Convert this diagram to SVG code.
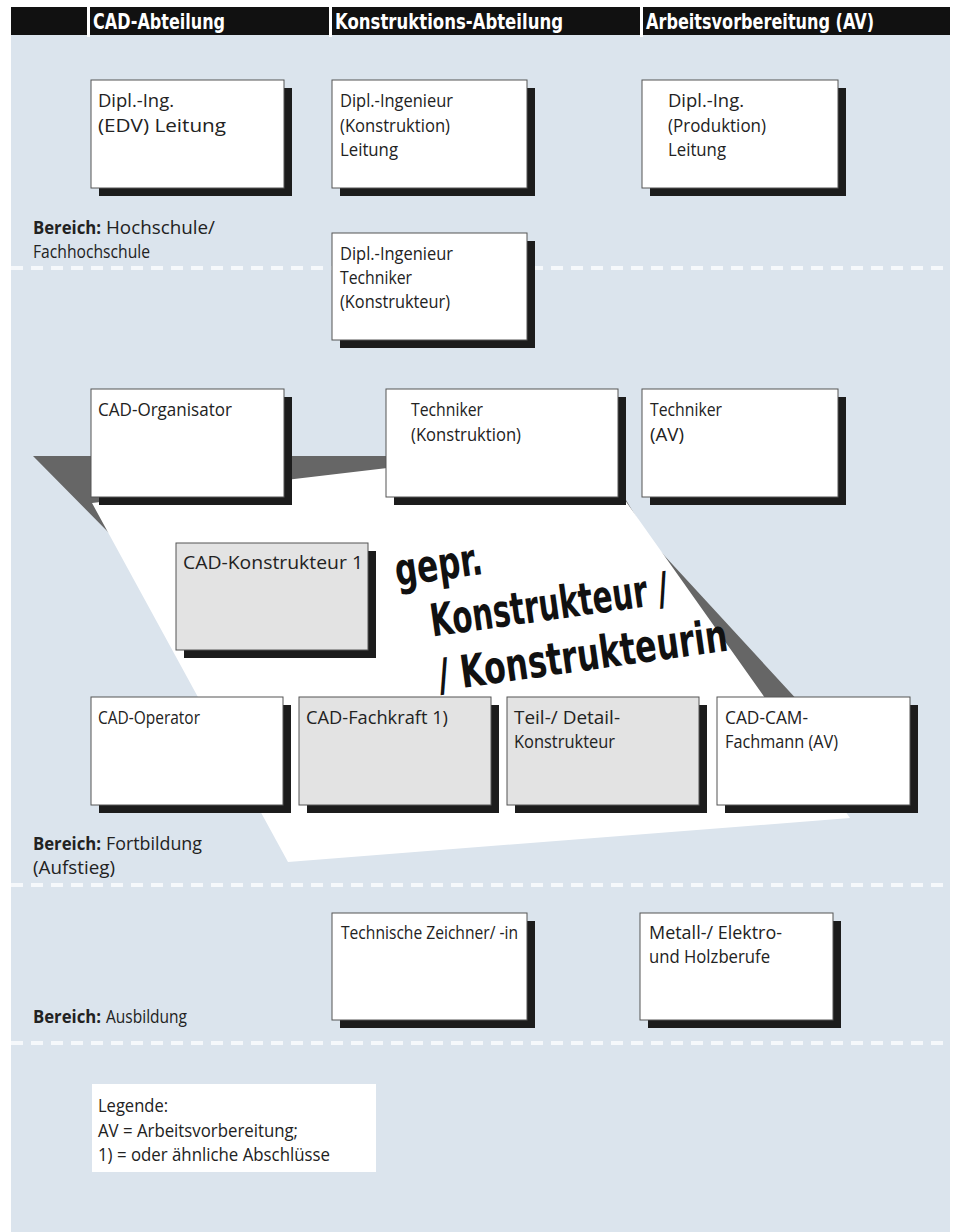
<svg xmlns="http://www.w3.org/2000/svg" width="958" height="1232" viewBox="0 0 958 1232">
<style>
.bx{fill:#ffffff;stroke:#555;stroke-width:1}
.gb{fill:#e3e3e3;stroke:#555;stroke-width:1}
.sh{fill:#1c1c1c}
.t{font-family:"Open Sans","Noto Sans",sans-serif;font-size:18px;fill:#222}
.b{font-weight:bold}
.hd{font-family:"Liberation Sans Narrow","DejaVu Sans Condensed",sans-serif;font-size:22px;font-weight:bold;fill:#fff}
.dash{stroke:#f5f8fb;stroke-width:4;stroke-dasharray:12 8;fill:none}
.big{font-family:"Liberation Sans Narrow","DejaVu Sans Condensed",sans-serif;font-weight:bold;font-size:45px;fill:#111}
</style>
<rect x="0" y="0" width="958" height="1232" fill="#ffffff"/>
<rect x="11" y="35" width="939" height="1197" fill="#dbe4ed"/>
<g id="header">
<rect x="11" y="7" width="939" height="28" fill="#111"/>
<rect x="87" y="7" width="3" height="30" fill="#fff"/>
<rect x="329" y="7" width="3" height="30" fill="#fff"/>
<rect x="640" y="7" width="3" height="30" fill="#fff"/>
<text class="hd" x="93" y="29" textLength="132" lengthAdjust="spacingAndGlyphs">CAD-Abteilung</text>
<text class="hd" x="335" y="29" textLength="228" lengthAdjust="spacingAndGlyphs">Konstruktions-Abteilung</text>
<text class="hd" x="646" y="29" textLength="228" lengthAdjust="spacingAndGlyphs">Arbeitsvorbereitung (AV)</text>
</g>
<g id="dividers">
<line class="dash" x1="11" y1="268" x2="950" y2="268"/>
<line class="dash" x1="11" y1="885" x2="950" y2="885"/>
<line class="dash" x1="11" y1="1043" x2="950" y2="1043"/>
</g>
<g id="plane">
<polygon points="33,456 610,456 620,490 650,540 812,716 700,800 113,537" fill="#666"/>
<polygon points="92,503 590,444 627,503 850,818 288,862" fill="#ffffff"/>
<g transform="rotate(-8 397 586)">
<text class="big" x="397" y="586" textLength="88" lengthAdjust="spacingAndGlyphs">gepr.</text>
<text class="big" x="425" y="641" textLength="240" lengthAdjust="spacingAndGlyphs">Konstrukteur /</text>
<text class="big" x="425" y="696" textLength="292" lengthAdjust="spacingAndGlyphs">/ Konstrukteurin</text>
</g>
</g>
<g id="labels">
<text class="t b" x="33" y="234" textLength="68" lengthAdjust="spacingAndGlyphs">Bereich:</text>
<text class="t" x="106" y="234" textLength="109" lengthAdjust="spacingAndGlyphs">Hochschule/</text>
<text class="t" x="33" y="258" textLength="117" lengthAdjust="spacingAndGlyphs">Fachhochschule</text>
<text class="t b" x="33" y="850" textLength="68" lengthAdjust="spacingAndGlyphs">Bereich:</text>
<text class="t" x="106" y="850" textLength="96" lengthAdjust="spacingAndGlyphs">Fortbildung</text>
<text class="t" x="33" y="874" textLength="82" lengthAdjust="spacingAndGlyphs">(Aufstieg)</text>
<text class="t b" x="33" y="1023" textLength="68" lengthAdjust="spacingAndGlyphs">Bereich:</text>
<text class="t" x="106" y="1023" textLength="81" lengthAdjust="spacingAndGlyphs">Ausbildung</text>
</g>
<g id="n-edv">
<rect class="sh" x="99" y="88" width="193" height="108"/>
<rect class="bx" x="91" y="80" width="193" height="108"/>
<text class="t" x="98" y="107" textLength="76" lengthAdjust="spacingAndGlyphs">Dipl.-Ing.</text>
<text class="t" x="98" y="132" textLength="128" lengthAdjust="spacingAndGlyphs">(EDV) Leitung</text>
</g>
<g id="n-konst-leitung">
<rect class="sh" x="340" y="88" width="195" height="108"/>
<rect class="bx" x="332" y="80" width="195" height="108"/>
<text class="t" x="340" y="107" textLength="113" lengthAdjust="spacingAndGlyphs">Dipl.-Ingenieur</text>
<text class="t" x="340" y="132" textLength="110" lengthAdjust="spacingAndGlyphs">(Konstruktion)</text>
<text class="t" x="340" y="156" textLength="58" lengthAdjust="spacingAndGlyphs">Leitung</text>
</g>
<g id="n-prod-leitung">
<rect class="sh" x="650" y="88" width="196" height="108"/>
<rect class="bx" x="642" y="80" width="196" height="108"/>
<text class="t" x="668" y="107" textLength="76" lengthAdjust="spacingAndGlyphs">Dipl.-Ing.</text>
<text class="t" x="668" y="132" textLength="98" lengthAdjust="spacingAndGlyphs">(Produktion)</text>
<text class="t" x="668" y="156" textLength="58" lengthAdjust="spacingAndGlyphs">Leitung</text>
</g>
<g id="n-konstrukteur">
<rect class="sh" x="340" y="241" width="195" height="107"/>
<rect class="bx" x="332" y="233" width="195" height="107"/>
<text class="t" x="340" y="260" textLength="113" lengthAdjust="spacingAndGlyphs">Dipl.-Ingenieur</text>
<text class="t" x="340" y="284" textLength="72" lengthAdjust="spacingAndGlyphs">Techniker</text>
<text class="t" x="340" y="308" textLength="110" lengthAdjust="spacingAndGlyphs">(Konstrukteur)</text>
</g>
<g id="n-cad-organisator">
<rect class="sh" x="99" y="397" width="193" height="108"/>
<rect class="bx" x="91" y="389" width="193" height="108"/>
<text class="t" x="98" y="416" textLength="134" lengthAdjust="spacingAndGlyphs">CAD-Organisator</text>
</g>
<g id="n-techniker-k">
<rect class="sh" x="394" y="397" width="232" height="108"/>
<rect class="bx" x="386" y="389" width="232" height="108"/>
<text class="t" x="411" y="416" textLength="72" lengthAdjust="spacingAndGlyphs">Techniker</text>
<text class="t" x="411" y="441" textLength="110" lengthAdjust="spacingAndGlyphs">(Konstruktion)</text>
</g>
<g id="n-techniker-av">
<rect class="sh" x="650" y="397" width="196" height="108"/>
<rect class="bx" x="642" y="389" width="196" height="108"/>
<text class="t" x="650" y="416" textLength="72" lengthAdjust="spacingAndGlyphs">Techniker</text>
<text class="t" x="650" y="441" textLength="34" lengthAdjust="spacingAndGlyphs">(AV)</text>
</g>
<g id="n-cad-konstrukteur">
<rect class="sh" x="184" y="551" width="192" height="107"/>
<rect class="gb" x="176" y="543" width="192" height="107"/>
<text class="t" x="183" y="569" textLength="180" lengthAdjust="spacingAndGlyphs">CAD-Konstrukteur 1</text>
</g>
<g id="n-cad-operator">
<rect class="sh" x="99" y="705" width="192" height="108"/>
<rect class="bx" x="91" y="697" width="192" height="108"/>
<text class="t" x="98" y="724" textLength="102" lengthAdjust="spacingAndGlyphs">CAD-Operator</text>
</g>
<g id="n-cad-fachkraft">
<rect class="sh" x="307" y="705" width="192" height="108"/>
<rect class="gb" x="299" y="697" width="192" height="108"/>
<text class="t" x="306" y="724" textLength="142" lengthAdjust="spacingAndGlyphs">CAD-Fachkraft 1)</text>
</g>
<g id="n-teil-detail">
<rect class="sh" x="515" y="705" width="192" height="108"/>
<rect class="gb" x="507" y="697" width="192" height="108"/>
<text class="t" x="514" y="724" textLength="106" lengthAdjust="spacingAndGlyphs">Teil-/ Detail-</text>
<text class="t" x="514" y="748" textLength="101" lengthAdjust="spacingAndGlyphs">Konstrukteur</text>
</g>
<g id="n-cad-cam">
<rect class="sh" x="725" y="705" width="193" height="108"/>
<rect class="bx" x="717" y="697" width="193" height="108"/>
<text class="t" x="725" y="724" textLength="83" lengthAdjust="spacingAndGlyphs">CAD-CAM-</text>
<text class="t" x="725" y="748" textLength="113" lengthAdjust="spacingAndGlyphs">Fachmann (AV)</text>
</g>
<g id="n-zeichner">
<rect class="sh" x="340" y="921" width="195" height="107"/>
<rect class="bx" x="332" y="913" width="195" height="107"/>
<text class="t" x="341" y="939" textLength="177" lengthAdjust="spacingAndGlyphs">Technische Zeichner/ -in</text>
</g>
<g id="n-metall">
<rect class="sh" x="648" y="921" width="193" height="107"/>
<rect class="bx" x="640" y="913" width="193" height="107"/>
<text class="t" x="649" y="939" textLength="133" lengthAdjust="spacingAndGlyphs">Metall-/ Elektro-</text>
<text class="t" x="649" y="963" textLength="121" lengthAdjust="spacingAndGlyphs">und Holzberufe</text>
</g>
<g id="legend">
<rect x="92" y="1084" width="284" height="88" fill="#ffffff"/>
<text class="t" x="98" y="1112" textLength="70" lengthAdjust="spacingAndGlyphs">Legende:</text>
<text class="t" x="98" y="1137" textLength="200" lengthAdjust="spacingAndGlyphs">AV = Arbeitsvorbereitung;</text>
<text class="t" x="98" y="1161" textLength="232" lengthAdjust="spacingAndGlyphs">1) = oder ähnliche Abschlüsse</text>
</g>
<g id="connectors"></g>
</svg>
